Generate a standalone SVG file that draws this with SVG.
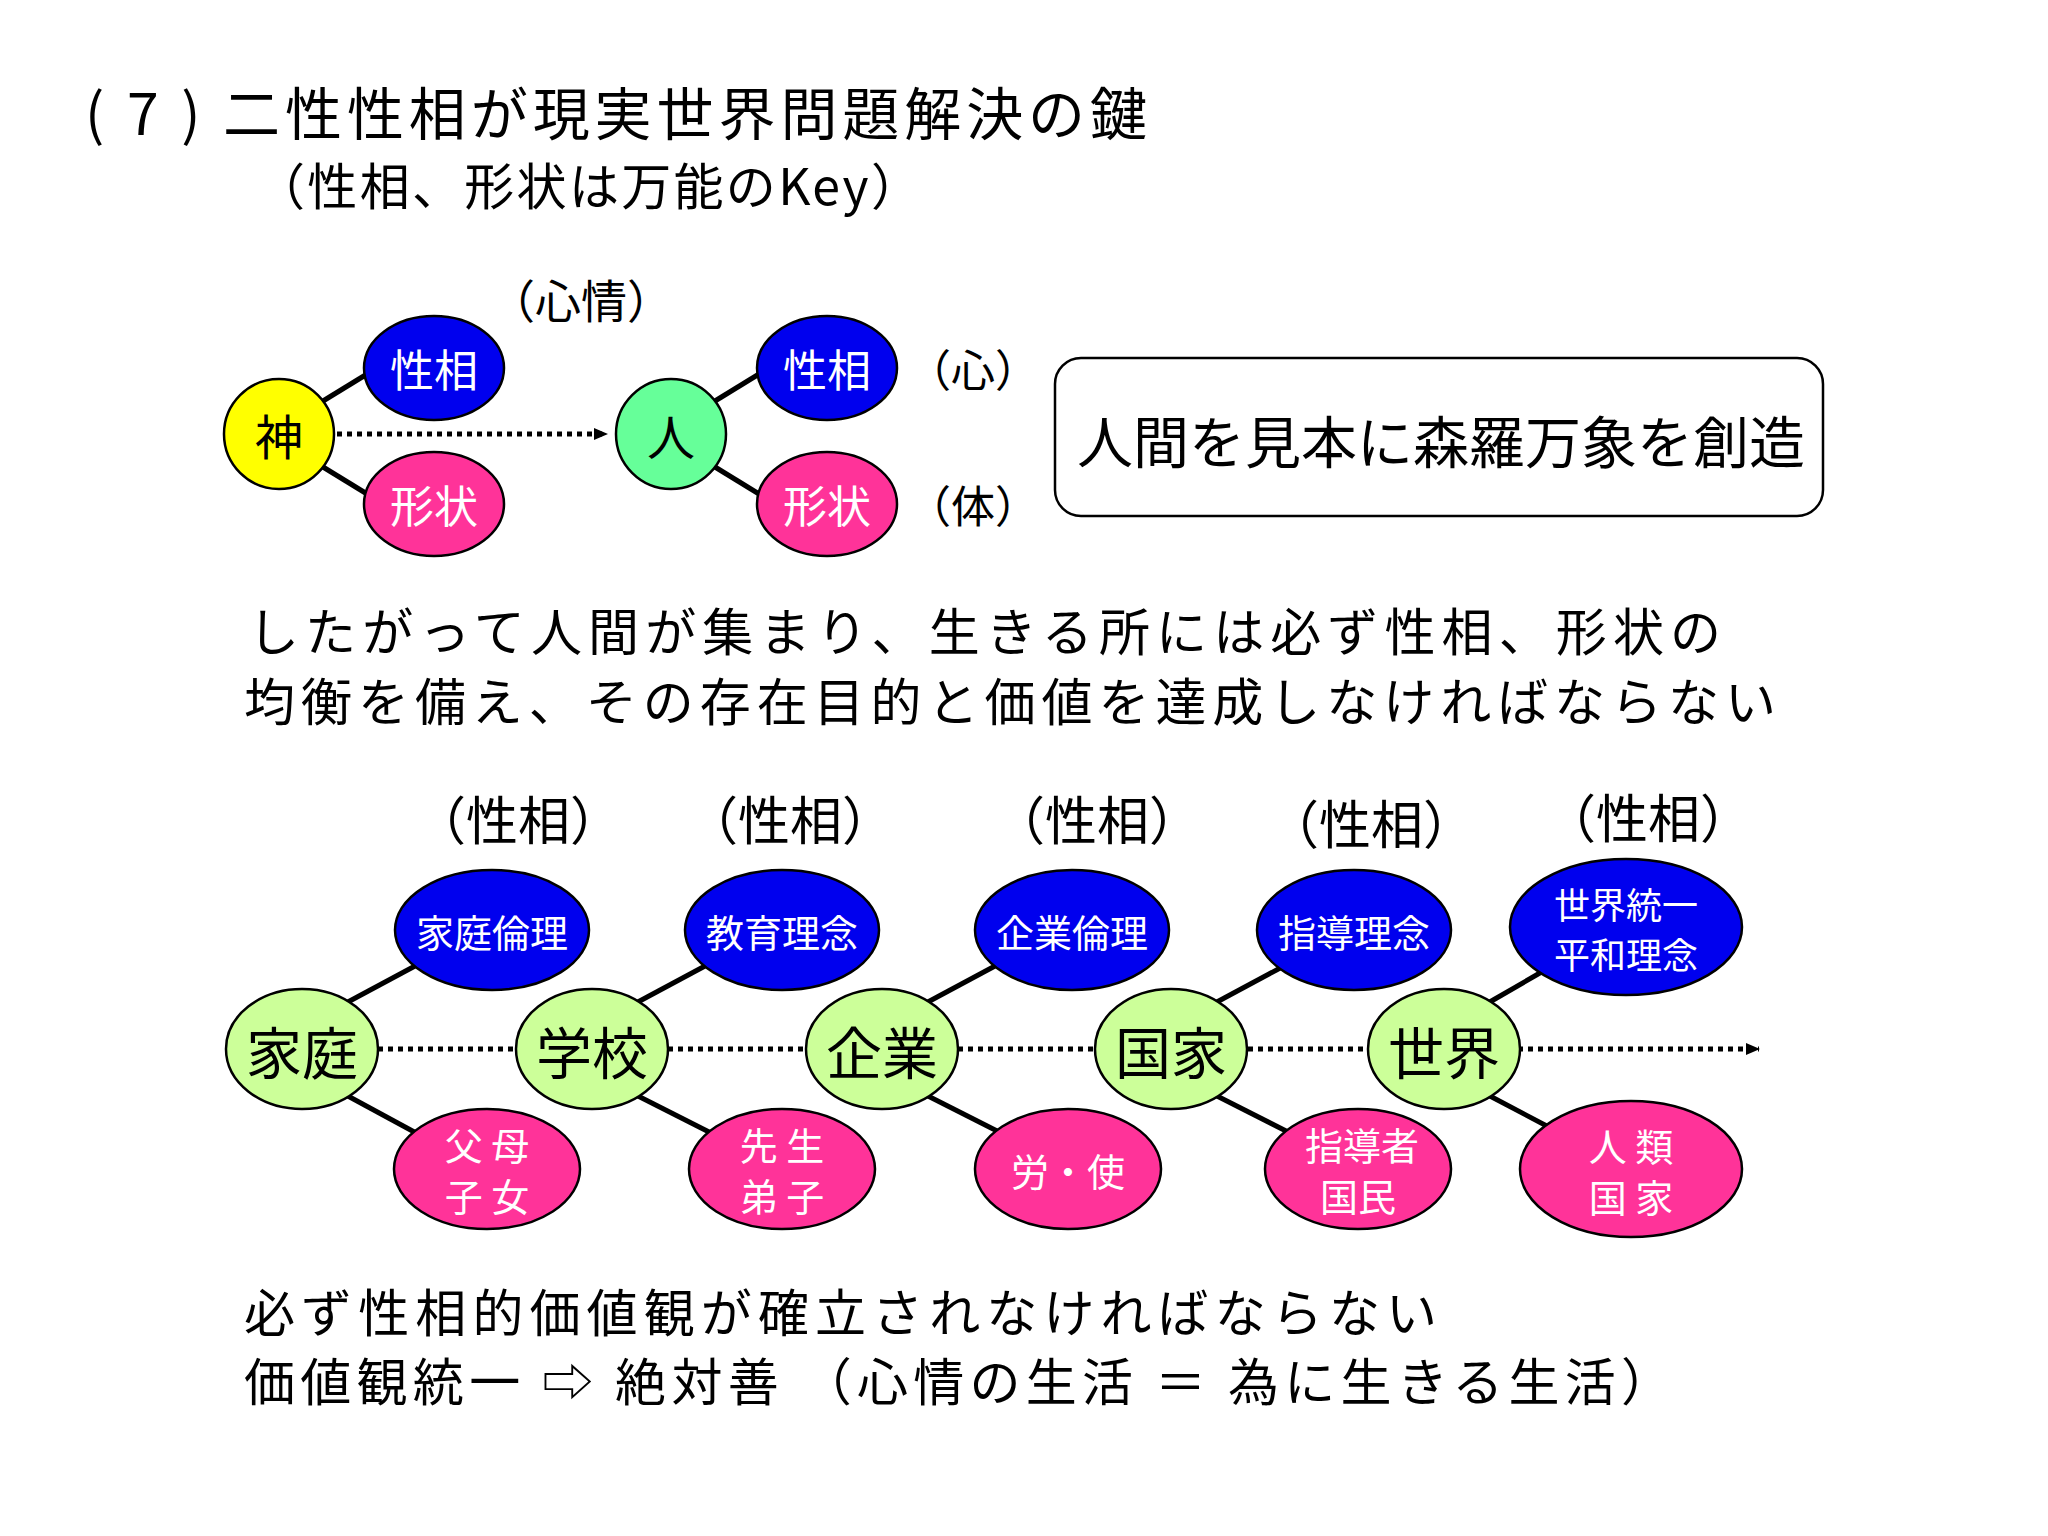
<svg xmlns="http://www.w3.org/2000/svg" width="2048" height="1536" viewBox="0 0 2048 1536">
<defs>
<style>
text{font-family:"Noto Sans CJK JP","Liberation Sans",sans-serif;}
.c{text-anchor:middle;dominant-baseline:central;}
.blue{fill:#0000ee;stroke:#000;stroke-width:2.5;}
.pink{fill:#ff3399;stroke:#000;stroke-width:2.5;}
.green{fill:#ccff99;stroke:#000;stroke-width:2.5;}
.ln{stroke:#000;stroke-width:5;fill:none;}
.dot{stroke:#000;stroke-width:5;stroke-dasharray:5 5;fill:none;}
.w{fill:#fff;}
</style>
<marker id="ah" markerWidth="14" markerHeight="12" refX="13" refY="6" orient="auto" markerUnits="userSpaceOnUse"><path d="M0,0 L14,6 L0,12 z" fill="#000"/></marker>
</defs>
<rect width="2048" height="1536" fill="#fff"/>
<text x="85" y="135" font-size="57" textLength="1062" lengthAdjust="spacing">( 7 ) 二性性相が現実世界問題解決の鍵</text>
<text x="255" y="205" font-size="50" textLength="666" lengthAdjust="spacing">（性相、形状は万能のKey）</text>

<g id="connectors">
<line class="ln" x1="323" y1="401" x2="372" y2="371"/>
<line class="ln" x1="323" y1="467" x2="372" y2="497"/>
<line class="ln" x1="715" y1="401" x2="764" y2="371"/>
<line class="ln" x1="715" y1="467" x2="764" y2="497"/>
<line class="dot" x1="337" y1="434" x2="607" y2="434" marker-end="url(#ah)"/>
<line class="dot" x1="378" y1="1049" x2="1759" y2="1049" marker-end="url(#ah)"/>
<line class="ln" x1="346" y1="1003" x2="415" y2="966"/><line class="ln" x1="346" y1="1095" x2="418" y2="1134"/>
<line class="ln" x1="636" y1="1003" x2="705" y2="966"/><line class="ln" x1="636" y1="1095" x2="713" y2="1134"/>
<line class="ln" x1="926" y1="1003" x2="995" y2="966"/><line class="ln" x1="926" y1="1095" x2="1003" y2="1134"/>
<line class="ln" x1="1215" y1="1003" x2="1284" y2="966"/><line class="ln" x1="1215" y1="1095" x2="1292" y2="1134"/>
<line class="ln" x1="1488" y1="1003" x2="1552" y2="966"/><line class="ln" x1="1488" y1="1095" x2="1562" y2="1134"/>
</g>

<g id="kami"><circle cx="279" cy="434" r="55" fill="#ffff00" stroke="#000" stroke-width="2.5"/><text class="c" x="279" y="434" font-size="48">神</text></g>
<g id="k-seiso"><ellipse class="blue" cx="434" cy="368" rx="70" ry="52"/><text class="c w" x="434" y="368" font-size="44">性相</text></g>
<g id="k-keijo"><ellipse class="pink" cx="434" cy="504" rx="70" ry="52"/><text class="c w" x="434" y="504" font-size="44">形状</text></g>
<text class="c" x="581" y="298" font-size="46">（心情）</text>
<g id="hito"><circle cx="671" cy="434" r="55" fill="#66ff99" stroke="#000" stroke-width="2.5"/><text class="c" x="671" y="434" font-size="48">人</text></g>
<g id="h-seiso"><ellipse class="blue" cx="827" cy="368" rx="70" ry="52"/><text class="c w" x="827" y="368" font-size="44">性相</text></g>
<g id="h-keijo"><ellipse class="pink" cx="827" cy="504" rx="70" ry="52"/><text class="c w" x="827" y="504" font-size="44">形状</text></g>
<text class="c" x="973" y="368" font-size="44">（心）</text>
<text class="c" x="973" y="504" font-size="44">（体）</text>
<g id="box"><rect x="1055" y="358" width="768" height="158" rx="26" fill="#fff" stroke="#000" stroke-width="2.5"/><text class="c" x="1441" y="438" font-size="56">人間を見本に森羅万象を創造</text></g>

<text x="248" y="651" font-size="51" textLength="1473" lengthAdjust="spacing">したがって人間が集まり、生きる所には必ず性相、形状の</text>
<text x="244" y="721" font-size="51" textLength="1532" lengthAdjust="spacing">均衡を備え、その存在目的と価値を達成しなければならない</text>

<g font-size="52">
<text class="c" x="518" y="817">（性相）</text>
<text class="c" x="790" y="817">（性相）</text>
<text class="c" x="1097" y="817">（性相）</text>
<text class="c" x="1371" y="821">（性相）</text>
<text class="c" x="1648" y="815">（性相）</text>
</g>

<g id="b1"><ellipse class="blue" cx="492" cy="930" rx="97" ry="60"/><text class="c w" x="492" y="930" font-size="38">家庭倫理</text></g>
<g id="b2"><ellipse class="blue" cx="782" cy="930" rx="97" ry="60"/><text class="c w" x="782" y="930" font-size="38">教育理念</text></g>
<g id="b3"><ellipse class="blue" cx="1072" cy="930" rx="97" ry="60"/><text class="c w" x="1072" y="930" font-size="38">企業倫理</text></g>
<g id="b4"><ellipse class="blue" cx="1354" cy="930" rx="97" ry="60"/><text class="c w" x="1354" y="930" font-size="38">指導理念</text></g>
<g id="b5"><ellipse class="blue" cx="1626" cy="927" rx="116" ry="68"/><text class="c w" x="1626" y="903" font-size="36">世界統一</text><text class="c w" x="1626" y="953" font-size="36">平和理念</text></g>

<g id="g1"><ellipse class="green" cx="302" cy="1049" rx="76" ry="60"/><text class="c" x="302" y="1049" font-size="56">家庭</text></g>
<g id="g2"><ellipse class="green" cx="592" cy="1049" rx="76" ry="60"/><text class="c" x="592" y="1049" font-size="56">学校</text></g>
<g id="g3"><ellipse class="green" cx="882" cy="1049" rx="76" ry="60"/><text class="c" x="882" y="1049" font-size="56">企業</text></g>
<g id="g4"><ellipse class="green" cx="1171" cy="1049" rx="76" ry="60"/><text class="c" x="1171" y="1049" font-size="56">国家</text></g>
<g id="g5"><ellipse class="green" cx="1444" cy="1049" rx="76" ry="60"/><text class="c" x="1444" y="1049" font-size="56">世界</text></g>

<g id="p1"><ellipse class="pink" cx="487" cy="1169" rx="93" ry="60"/><text class="c w" x="487" y="1143" font-size="38">父 母</text><text class="c w" x="487" y="1194" font-size="38">子 女</text></g>
<g id="p2"><ellipse class="pink" cx="782" cy="1169" rx="93" ry="60"/><text class="c w" x="782" y="1143" font-size="38">先 生</text><text class="c w" x="782" y="1194" font-size="38">弟 子</text></g>
<g id="p3"><ellipse class="pink" cx="1068" cy="1169" rx="93" ry="60"/><text class="c w" x="1068" y="1169" font-size="38">労・使</text></g>
<g id="p4"><ellipse class="pink" cx="1358" cy="1169" rx="93" ry="60"/><text class="c w" x="1362" y="1143" font-size="38">指導者</text><text class="c w" x="1358" y="1194" font-size="38">国民</text></g>
<g id="p5"><ellipse class="pink" cx="1631" cy="1169" rx="111" ry="68"/><text class="c w" x="1631" y="1144" font-size="38">人 類</text><text class="c w" x="1631" y="1195" font-size="38">国 家</text></g>

<text x="244" y="1332" font-size="51" textLength="1193" lengthAdjust="spacing">必ず性相的価値観が確立されなければならない</text>
<text x="244" y="1401" font-size="51" textLength="1428" lengthAdjust="spacing">価値観統一 ⇨ 絶対善 （心情の生活 ＝ 為に生きる生活）</text>
</svg>
